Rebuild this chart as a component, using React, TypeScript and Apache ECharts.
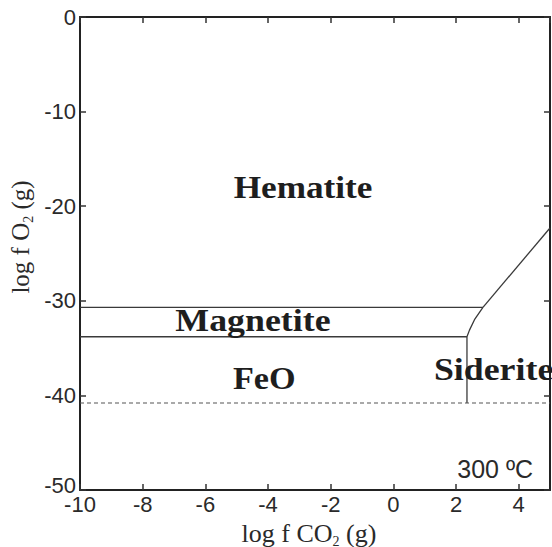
import React, { useEffect, useRef } from "react";
import * as echarts from "echarts";

// Axis ranges and ticks
const xMin = -10;
const xMax = 5;
const xStep = 2;
const yMin = -50;
const yMax = 0;
const yStep = 10;

// Phase boundaries [log fCO2, log fO2]
const hematiteMagnetite = [[-10, -30.7], [2.86, -30.7]];
const magnetiteFeO = [[-10, -33.8], [2.35, -33.8]];
const magnetiteSiderite = [[2.35, -33.8], [2.43, -33.1], [2.59, -32.0], [2.86, -30.7]];
const hematiteSiderite = [[2.86, -30.7], [5, -22.3]];
const feoSiderite = [[2.35, -33.8], [2.35, -40.8]];
const waterLimit = [[-10, -40.8], [5, -40.8]];

// Field labels
const phaseNames = ["Hematite", "Magnetite", "FeO", "Siderite"];
const phaseX = [-2.88, -4.48, -4.12, 3.2];
const phaseY = [-18.0, -32.1, -38.1, -37.2];
const phaseScaleX = [1.1, 1.12, 1.07, 1.12];

const tempText = "300 ºC";
const tempPos = [3.25, -47.8];

export default function App() {
  const ref = useRef<HTMLDivElement>(null);
  useEffect(() => {
    if (!ref.current) return;
    const chart = echarts.init(ref.current, null, { renderer: "svg" });
    const lineStyle = { color: "#3a3a3a", width: 1.3 };
    const mkLine = (data: number[][], style: any) => ({
      type: "line",
      data,
      symbol: "none",
      lineStyle: style,
      silent: true,
      z: 3,
    });
    const axisCommon = {
      axisLine: { show: true, onZero: false, lineStyle: { color: "#222", width: 2 } },
      axisTick: { show: true, inside: true, length: 6, lineStyle: { color: "#333", width: 1.5 } },
      splitLine: { show: false },
    };
    const labelData = phaseNames.map((n, i) => [phaseX[i], phaseY[i], i]);
    chart.setOption({
      animation: false,
      backgroundColor: "#fff",
      grid: { left: 80, right: 2, top: 17, bottom: 57 },
      xAxis: [
        {
          type: "value",
          min: xMin,
          max: xMax,
          interval: xStep,
          position: "bottom",
          ...axisCommon,
          axisLabel: {
            color: "#2a2a2a",
            fontSize: 22,
            fontFamily: "Liberation Sans",
            margin: 3,
            showMaxLabel: false,
            formatter: (v: number) => (v === xMax ? "" : String(v)),
          },
        },
        {
          type: "value",
          min: xMin,
          max: xMax,
          interval: xStep,
          position: "top",
          ...axisCommon,
          axisLabel: { show: false },
        },
      ],
      yAxis: [
        {
          type: "value",
          min: yMin,
          max: yMax,
          interval: yStep,
          position: "left",
          ...axisCommon,
          axisLabel: {
            color: "#2a2a2a",
            fontSize: 22,
            fontFamily: "Liberation Sans",
            margin: 4,
            formatter: (v: number) => (v === yMin ? `{b|${v}}` : `{n|${v}}`),
            rich: {
              b: { fontSize: 22, fontFamily: "Liberation Sans", color: "#2a2a2a", padding: [0, 0, 10, 0] },
              n: { fontSize: 22, fontFamily: "Liberation Sans", color: "#2a2a2a" },
            },
          },
        },
        {
          type: "value",
          min: yMin,
          max: yMax,
          interval: yStep,
          position: "right",
          ...axisCommon,
          axisLabel: { show: false },
        },
      ],
      graphic: [
        {
          type: "text",
          x: 309,
          y: 533,
          style: {
            text: "{a|log f CO}{s|2}{a| (g)}",
            align: "center",
            verticalAlign: "middle",
            fill: "#2a2a2a",
            rich: {
              a: { fontSize: 26, fontFamily: "Liberation Serif", lineHeight: 30, fill: "#2a2a2a" },
              s: { fontSize: 14, fontFamily: "Liberation Serif", lineHeight: 20, verticalAlign: "bottom", fill: "#2a2a2a" },
            },
          },
        },
        {
          type: "text",
          x: 20,
          y: 237,
          rotation: Math.PI / 2,
          style: {
            text: "{a|log f O}{s|2}{a| (g)}",
            align: "center",
            verticalAlign: "middle",
            fill: "#2a2a2a",
            rich: {
              a: { fontSize: 25, fontFamily: "Liberation Serif", lineHeight: 30, fill: "#2a2a2a" },
              s: { fontSize: 14, fontFamily: "Liberation Serif", lineHeight: 20, verticalAlign: "bottom", fill: "#2a2a2a" },
            },
          },
        },
      ],
      series: [
        mkLine(hematiteMagnetite, lineStyle),
        mkLine(magnetiteFeO, lineStyle),
        mkLine(magnetiteSiderite, lineStyle),
        mkLine(hematiteSiderite, lineStyle),
        mkLine(feoSiderite, lineStyle),
        mkLine(waterLimit, { color: "#555", width: 1.1, type: [4, 3] }),
        {
          type: "custom",
          silent: true,
          z: 5,
          data: labelData,
          renderItem: (params: any, api: any) => {
            const p = api.coord([api.value(0), api.value(1)]);
            const i = api.value(2);
            return {
              type: "text",
              x: p[0],
              y: p[1],
              scaleX: phaseScaleX[i],
              style: {
                text: phaseNames[i],
                fontSize: 32,
                fontWeight: "bold",
                fontFamily: "Liberation Serif",
                fill: "#1e1e1e",
                align: "center",
                verticalAlign: "middle",
              },
            };
          },
        },
        {
          type: "custom",
          silent: true,
          z: 5,
          data: [tempPos],
          renderItem: (params: any, api: any) => {
            const p = api.coord([api.value(0), api.value(1)]);
            return {
              type: "text",
              x: p[0],
              y: p[1],
              style: {
                text: tempText,
                fontSize: 25,
                fontFamily: "Liberation Sans",
                fill: "#2a2a2a",
                align: "center",
                verticalAlign: "middle",
              },
            };
          },
        },
      ],
    });
    return () => chart.dispose();
  }, []);
  return (
    <div
      ref={ref}
      style={{ position: "fixed", left: 0, top: 0, width: 552, height: 547 }}
    />
  );
}
